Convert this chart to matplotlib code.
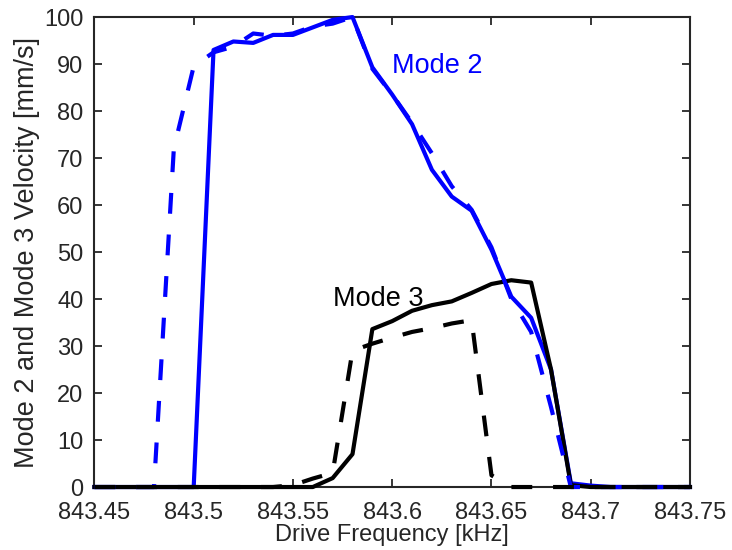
import matplotlib
matplotlib.use("Agg")
import matplotlib.pyplot as plt

# drive frequency sweep [kHz]
freq = [843.45, 843.46, 843.47, 843.48, 843.49, 843.50, 843.51, 843.52,
        843.53, 843.54, 843.55, 843.56, 843.57, 843.58, 843.59, 843.60,
        843.61, 843.62, 843.63, 843.64, 843.65, 843.66, 843.67, 843.68,
        843.69, 843.70, 843.71, 843.72, 843.73, 843.74, 843.75]

# mode 2 velocity [mm/s], upward and downward sweeps
mode2_up = [0, 0, 0, 0, 0, 0, 93.0, 94.8, 94.5, 96.2, 96.2, 97.8, 99.4, 100.0,
            89.3, 83.5, 77.2, 67.5, 61.8, 58.8, 50.5, 40.5, 36.0, 25.0, 0.8,
            0.3, 0, 0, 0, 0, 0]
mode2_down = [0, 0, 0, 0, 72.0, 89.5, 92.5, 93.7, 96.5, 96.0, 96.5, 98.0, 98.6,
              100.0, 89.0, 83.5, 77.5, 71.0, 64.0, 59.0, 51.0, 40.0, 33.0, 17.0,
              0, 0, 0, 0, 0, 0, 0]

# mode 3 velocity [mm/s], upward and downward sweeps
mode3_up = [0, 0, 0, 0, 0, 0, 0, 0, 0, 0, 0, 0, 1.9, 7.0, 33.6, 35.3, 37.5,
            38.7, 39.5, 41.3, 43.2, 44.0, 43.5, 25.0, 0.4, 0, 0, 0, 0, 0, 0]
mode3_down = [0, 0, 0, 0, 0, 0, 0, 0, 0, 0, 0.4, 1.8, 3.0, 29.0, 30.5, 31.8,
              33.0, 33.8, 34.8, 35.5, 2.5, 0, 0, 0, 0, 0, 0, 0, 0, 0, 0]

xticks = [843.45, 843.5, 843.55, 843.6, 843.65, 843.7, 843.75]
xtick_labels = ["843.45", "843.5", "843.55", "843.6", "843.65", "843.7", "843.75"]
yticks = [0, 10, 20, 30, 40, 50, 60, 70, 80, 90, 100]

plt.rcParams["font.family"] = ["Liberation Sans", "DejaVu Sans"]
fs = 17
fs_big = 19.5
axis_color = "#262626"

fig = plt.figure(figsize=(7.32, 5.5), dpi=100)
ax = fig.add_axes([0.129, 0.1145, 0.8136, 0.8545])

lw = 3.0
ax.plot(freq, mode2_up, color="#0000ff", lw=lw, clip_on=False, zorder=2)
ax.plot(freq, mode3_up, color="black", lw=lw, clip_on=False, zorder=3)
ax.plot(freq, mode2_down, color="#0000ff", lw=lw, dashes=(5, 5),
        clip_on=False, zorder=4)
ax.plot(freq, mode3_down, color="black", lw=lw, dashes=(5, 5),
        clip_on=False, zorder=5)

ax.text(843.60, 89.6, "Mode 2", color="#0000ff", fontsize=fs_big,
        ha="left", va="center")
ax.text(843.57, 40.0, "Mode 3", color="black", fontsize=fs_big,
        ha="left", va="center")

ax.set_xlim(843.45, 843.75)
ax.set_ylim(0, 100)
ax.set_xticks(xticks)
ax.set_xticklabels(xtick_labels)
ax.set_yticks(yticks)

ax.tick_params(direction="in", length=6, width=1.3, colors=axis_color,
               labelsize=fs, top=True, right=True)
ax.tick_params(axis="x", pad=11)
ax.tick_params(axis="y", pad=8)
for side in ax.spines.values():
    side.set_color(axis_color)
    side.set_linewidth(1.5)
    side.set_zorder(1)

ax.set_xlabel("Drive Frequency [kHz]", fontsize=fs, color=axis_color, labelpad=0)
ax.set_ylabel("Mode 2 and Mode 3 Velocity [mm/s]", fontsize=fs_big,
              color=axis_color, labelpad=3)

fig.savefig("out.png", dpi=100)
